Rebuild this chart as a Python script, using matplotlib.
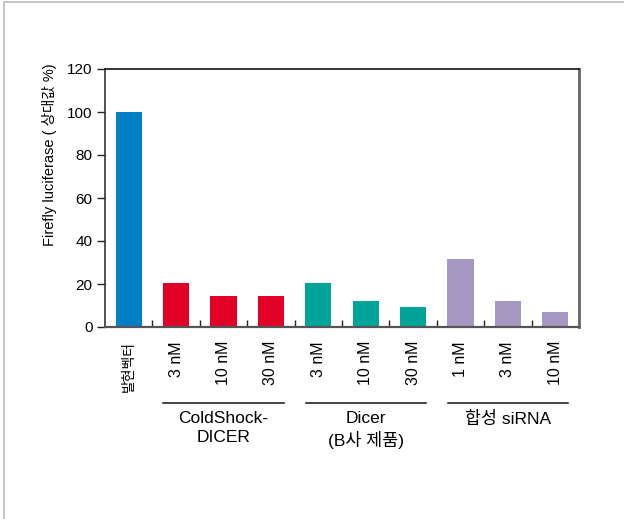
import matplotlib
matplotlib.use("Agg")
import matplotlib.pyplot as plt
from matplotlib.patches import Rectangle
import matplotlib.transforms as mtransforms

plt.rcParams['font.family'] = ['Liberation Sans', 'Noto Sans CJK KR', 'DejaVu Sans']

# Data
tick_labels = ['발현벡터', '3 nM', '10 nM', '30 nM', '3 nM', '10 nM', '30 nM',
               '1 nM', '3 nM', '10 nM']
values = [100, 20.3, 14.3, 14.3, 20.3, 12, 9.1, 31.5, 12, 6.8]
bar_colors = ['#007FC4', '#E10026', '#E10026', '#E10026',
              '#00A499', '#00A499', '#00A499',
              '#A797C3', '#A797C3', '#A797C3']
groups = ['ColdShock-\nDICER', 'Dicer\n(B사 제품)', '합성 siRNA']
group_spans = [(1, 3), (4, 6), (7, 9)]
y_ticks = [0, 20, 40, 60, 80, 100, 120]
y_label = 'Firefly luciferase ( 상대값 %)'

W, H = 624, 519
fig = plt.figure(figsize=(W / 100, H / 100), dpi=100)

# light grey frame around the figure
fig.patches.append(Rectangle((4 / W, -0.1), 1.2, 1 - 1.5 / H + 0.1,
                             transform=fig.transFigure, fill=False,
                             edgecolor='#BBBBBB', linewidth=1.2))

ax = fig.add_axes([105 / W, 1 - 327 / H, 474 / W, 258 / H])

x = list(range(len(values)))
ax.bar(x, values, width=0.55, color=bar_colors, zorder=2)

ax.set_xlim(-0.5, len(values) - 0.5)
ax.set_ylim(0, 120)
ax.set_yticks(y_ticks)
ax.set_yticklabels([str(t) for t in y_ticks], fontsize=11)
ax.tick_params(axis='y', direction='out', length=6, width=1, pad=3,
               color='#222222')

ax.set_xticks(x)
ax.set_xticklabels(tick_labels, rotation=90, fontsize=11.5)
ax.tick_params(axis='x', which='major', length=0, pad=10)
ax.set_xticks([i + 0.5 for i in range(len(values) - 1)], minor=True)
ax.tick_params(axis='x', which='minor', direction='in', length=5, width=1,
               color='#222222')
ax.get_xticklabels()[0].set_fontsize(10)

ax.spines['top'].set_color('#111111')
ax.spines['top'].set_linewidth(1.2)
ax.spines['right'].set_color('#666666')
ax.spines['right'].set_linewidth(2)
ax.spines['left'].set_color('#333333')
ax.spines['left'].set_linewidth(1.2)
ax.spines['bottom'].set_color('#555555')
ax.spines['bottom'].set_linewidth(1.6)

ax.set_ylabel(y_label, fontsize=10.5, labelpad=6)
ax.yaxis.set_label_coords(-0.102, 0.667)

# group brackets and captions beneath the tick labels
trans = mtransforms.blended_transform_factory(ax.transData, ax.transAxes)
for name, (a, b) in zip(groups, group_spans):
    ax.plot([a - 0.27, b + 0.27], [-0.295, -0.295], color='#111111',
            linewidth=1.1, transform=trans, clip_on=False)
    ax.text((a + b) / 2, -0.325, name, transform=trans, ha='center',
            va='top', fontsize=12.5, linespacing=1.35)

fig.savefig('out.png', dpi=100)
